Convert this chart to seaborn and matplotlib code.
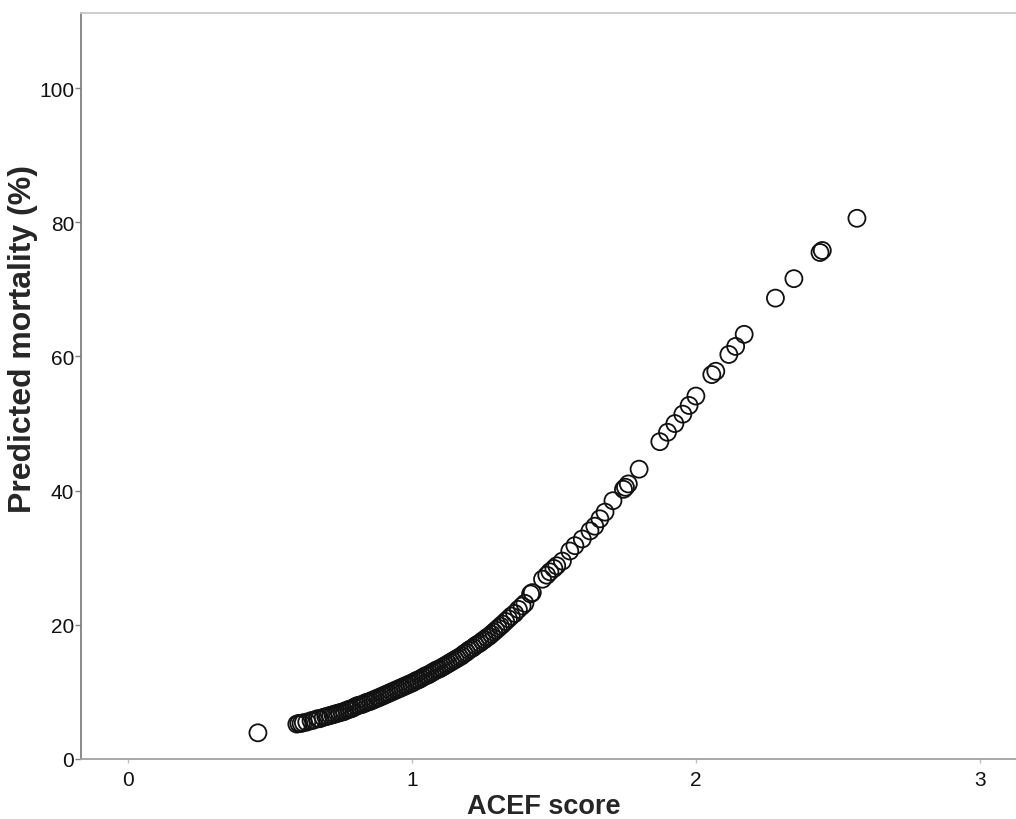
import matplotlib
matplotlib.use("Agg")
import matplotlib.pyplot as plt
import seaborn as sns
import pandas as pd

acef_score = [
    0.458, 0.595, 0.602, 0.610, 0.618, 0.630, 0.645, 0.655, 0.668, 0.676,
    0.688, 0.697, 0.705, 0.714, 0.722, 0.730, 0.738, 0.746, 0.755, 0.763,
    0.772, 0.780, 0.788, 0.797, 0.805, 0.813, 0.822, 0.830, 0.838, 0.846,
    0.855, 0.863, 0.871, 0.880, 0.888, 0.896, 0.904, 0.912, 0.920, 0.928,
    0.936, 0.944, 0.952, 0.960, 0.968, 0.976, 0.984, 0.992, 1.000, 1.008,
    1.016, 1.024, 1.032, 1.040, 1.048, 1.056, 1.064, 1.072, 1.080, 1.088,
    1.096, 1.104, 1.112, 1.120, 1.128, 1.136, 1.144, 1.152, 1.160, 1.168,
    1.176, 1.184, 1.192, 1.200, 1.208, 1.216, 1.224, 1.232, 1.240, 1.248,
    1.256, 1.264, 1.272, 1.280, 1.288, 1.296, 1.304, 1.312, 1.320, 1.330,
    1.340, 1.350, 1.362, 1.375, 1.388, 1.398, 1.418, 1.424,
    1.460, 1.475, 1.486, 1.500, 1.510, 1.530, 1.556, 1.574, 1.600, 1.627,
    1.644, 1.662, 1.680, 1.708, 1.745, 1.752, 1.762, 1.800, 1.873, 1.900,
    1.926, 1.954, 1.976, 2.000, 2.056, 2.070, 2.116, 2.140, 2.170, 2.280,
    2.345, 2.437, 2.445, 2.567,
]
predicted_mortality = [
    3.9, 5.2, 5.3, 5.3, 5.4, 5.5, 5.7, 5.8, 6.0, 6.0,
    6.2, 6.3, 6.4, 6.5, 6.6, 6.7, 6.8, 6.9, 7.0, 7.1,
    7.3, 7.4, 7.5, 7.7, 7.9, 8.0, 8.1, 8.2, 8.4, 8.5,
    8.6, 8.8, 8.9, 9.1, 9.2, 9.4, 9.5, 9.7, 9.8, 10.0,
    10.1, 10.3, 10.4, 10.6, 10.7, 10.9, 11.0, 11.2, 11.3, 11.5,
    11.7, 11.8, 12.0, 12.2, 12.4, 12.5, 12.7, 12.9, 13.1, 13.3,
    13.4, 13.6, 13.8, 14.0, 14.2, 14.4, 14.6, 14.8, 15.0, 15.2,
    15.4, 15.7, 15.9, 16.2, 16.4, 16.6, 16.9, 17.1, 17.3, 17.6,
    17.8, 18.1, 18.3, 18.6, 18.9, 19.2, 19.5, 19.8, 20.1, 20.5,
    20.9, 21.3, 21.7, 22.3, 22.8, 23.2, 24.6, 24.8,
    26.8, 27.4, 27.9, 28.4, 28.8, 29.5, 31.0, 31.8, 32.8, 34.0,
    34.7, 35.8, 36.8, 38.5, 40.2, 40.5, 41.0, 43.2, 47.3, 48.7,
    50.0, 51.4, 52.7, 54.1, 57.3, 57.8, 60.3, 61.5, 63.3, 68.7,
    71.6, 75.5, 75.8, 80.6,
]
x_ticks = [0, 1, 2, 3]
y_ticks = [0, 20, 40, 60, 80, 100]

df = pd.DataFrame({"ACEF score": acef_score, "Predicted mortality (%)": predicted_mortality})

sns.set_theme(style="white")
plt.rcParams["font.family"] = ["Liberation Sans", "DejaVu Sans"]

fig = plt.figure(figsize=(10.16, 8.2), dpi=100)
ax = fig.add_axes([0.0797, 0.0732, 0.9203, 0.9097])

sns.scatterplot(data=df, x="ACEF score", y="Predicted mortality (%)", ax=ax,
                s=150, facecolor="none", edgecolor="#111111", linewidth=1.3,
                legend=False)

ax.set_xlim(-0.165, 3.127)
ax.set_ylim(0, 111.2)
ax.set_xticks(x_ticks)
ax.set_yticks(y_ticks)
ax.tick_params(axis="both", labelsize=15, colors="#111111")
ax.tick_params(axis="y", direction="out", length=4, width=1, color="#808080", pad=1, left=True)
ax.tick_params(axis="x", direction="out", length=3, width=1, color="#c0c0c0", pad=5, bottom=True)

ax.set_xlabel("ACEF score", fontsize=19.5, fontweight="bold")
ax.set_ylabel("Predicted mortality (%)", fontsize=23, fontweight="bold")
ax.xaxis.set_label_coords(0.495, -0.046)
ax.yaxis.set_label_coords(-0.046, 0.565)

ax.spines["left"].set_color("#808080")
ax.spines["bottom"].set_color("#a0a0a0")
ax.spines["top"].set_color("#c8c8c8")
ax.spines["right"].set_visible(False)
for s in ["left", "bottom", "top"]:
    ax.spines[s].set_linewidth(1.3)
ax.grid(False)

fig.savefig("out.png", dpi=100)
